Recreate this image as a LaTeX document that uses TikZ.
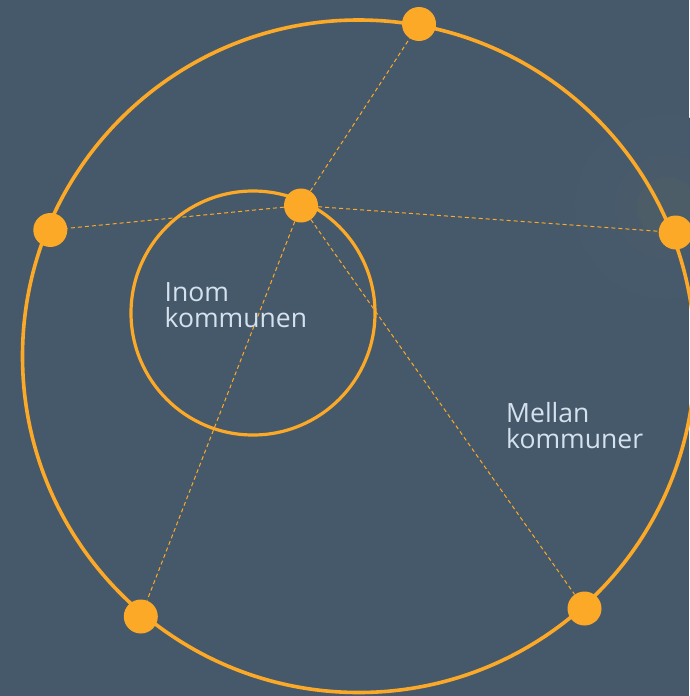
\documentclass[tikz,border=0pt]{standalone}
\usepackage{fontspec}
\setmainfont{Open Sans}
\definecolor{bg}{HTML}{46596B}
\definecolor{org}{HTML}{FBA927}
\definecolor{txt}{HTML}{D5E2EE}
\definecolor{glowA}{HTML}{475A6B}
\definecolor{glowB}{HTML}{495B6B}
\definecolor{glowC}{HTML}{4C5D68}
\tikzset{
  ring/.style={draw=org, line width=3.6pt},
  dotnode/.style={circle, fill=org, inner sep=0pt, minimum size=34pt},
  link/.style={draw=org, line width=1pt, dash pattern=on 4pt off 3pt},
  lbl/.style={text=txt, font=\fontsize{26.5}{26.6}\selectfont, align=left, inner sep=0pt, anchor=north west}
}
\begin{document}
\begin{tikzpicture}[x=1pt,y=-1pt]
\fill[bg] (0,0) rectangle (689,696);
\useasboundingbox (0,0) rectangle (689,696);
% faint glow
\fill[glowA] (667,207) circle (92);
\fill[glowB] (667,207) circle (52);
\fill[glowC] (667,207) circle (30);
% circles
\draw[ring] (358.75,356.25) circle (336.25);
\draw[ring, line width=3.2pt] (253,313) circle (122);
% dots
\node[dotnode] (c) at (301,205.5) {};
\node[dotnode] (t) at (419,24) {};
\node[dotnode] (l) at (50.3,230) {};
\node[dotnode] (r) at (675.7,232.5) {};
\node[dotnode] (bl) at (140.8,616.5) {};
\node[dotnode] (br) at (584.5,608.5) {};
\draw[link] (c) -- (t);
\draw[link] (c) -- (l);
\draw[link] (c) -- (r);
\draw[link] (c) -- (bl);
\draw[link] (c) -- (br);
% labels
\node[lbl] (inom) at (164.5,282) {Inom\\kommunen};
\node[lbl] (mellan) at (506,402) {Mellan\\kommuner};
\end{tikzpicture}
\end{document}
